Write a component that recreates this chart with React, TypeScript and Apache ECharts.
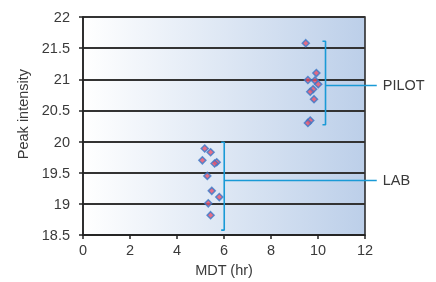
import React, { useEffect, useRef } from "react";
import * as echarts from "echarts";

const pilotX = [9.48, 9.93, 9.57, 9.87, 10.01, 9.79, 9.67, 9.83, 9.67, 9.57];
const pilotY = [21.58, 21.1, 20.99, 20.98, 20.92, 20.84, 20.8, 20.68, 20.34, 20.3];
const labX = [5.18, 5.43, 5.08, 5.69, 5.6, 5.29, 5.48, 5.8, 5.33, 5.43];
const labY = [19.89, 19.83, 19.7, 19.67, 19.65, 19.45, 19.21, 19.11, 19.01, 18.82];

// bracket definitions: [xBracket, yTop, yBottom, yMid]
const pilotBracket = [10.32, 21.61, 20.27, 20.91];
const labBracket = [6.01, 19.99, 18.58, 19.39];
const capLen = 0.13;
const leaderEndX = 12.5;

const xTicks = [0, 2, 4, 6, 8, 10, 12];
const yTicks = [18.5, 19, 19.5, 20, 20.5, 21, 21.5, 22];

const bracketColor = "#1a9ad6";
const font = "Liberation Sans, Arial, sans-serif";
const textColor = "#3a3a3a";
const fs = 14.5;

function bracketSeries(b: number[]) {
  const [bx, top, bot] = b;
  return {
    type: "line",
    data: [
      [bx - capLen, top],
      [bx, top],
      [bx, bot],
      [bx - capLen, bot],
    ],
    symbol: "none",
    lineStyle: { color: bracketColor, width: 1.6 },
    clip: false,
    silent: true,
  };
}

export default function App() {
  const ref = useRef<HTMLDivElement>(null);
  useEffect(() => {
    if (!ref.current) return;
    const chart = echarts.init(ref.current, undefined, { renderer: "svg" });
    const pilotData = pilotX.map((x, i) => [x, pilotY[i]]);
    const labData = labX.map((x, i) => [x, labY[i]]);
    const pointStyle = {
      color: "#e8506a",
      borderColor: "#3a78c8",
      borderWidth: 1.5,
    };
    chart.setOption({
      animation: false,
      grid: {
        left: 83,
        top: 17,
        width: 282,
        height: 220,
        show: true,
        borderColor: "#222",
        borderWidth: 1.5,
        backgroundColor: new echarts.graphic.LinearGradient(0, 0, 1, 0, [
          { offset: 0, color: "#ffffff" },
          { offset: 1, color: "#bccfe9" },
        ]),
      },
      xAxis: {
        type: "value",
        min: 0,
        max: 12,
        interval: 2,
        name: "MDT (hr)",
        nameLocation: "middle",
        nameGap: 24,
        nameTextStyle: { color: textColor, fontSize: fs, fontFamily: font },
        axisLine: { show: true, lineStyle: { color: "#222", width: 1.5 } },
        axisTick: { show: true, length: 4, lineStyle: { color: "#222", width: 1.5 } },
        axisLabel: {
          color: textColor,
          fontSize: fs,
          fontFamily: font,
          margin: 7,
          formatter: (v: number) => (xTicks.includes(v) ? String(v) : ""),
        },
        splitLine: { show: false },
      },
      yAxis: {
        type: "value",
        min: 18.5,
        max: 22,
        interval: 0.5,
        name: "Peak intensity",
        nameLocation: "middle",
        nameGap: 52,
        nameTextStyle: {
          color: textColor,
          fontSize: fs,
          fontFamily: font,
          padding: [0, 0, 0, 24],
        },
        axisLine: { show: true, lineStyle: { color: "#222", width: 1.5 } },
        axisTick: { show: true, length: 4, lineStyle: { color: "#222", width: 1.5 } },
        axisLabel: {
          color: textColor,
          fontSize: fs,
          fontFamily: font,
          margin: 13,
          formatter: (v: number) => (yTicks.includes(v) ? String(v) : ""),
        },
        splitLine: { show: true, lineStyle: { color: "#333", width: 1.8 } },
      },
      series: [
        {
          type: "scatter",
          data: pilotData,
          symbol: "diamond",
          symbolSize: 7,
          itemStyle: pointStyle,
        },
        {
          type: "scatter",
          data: labData,
          symbol: "diamond",
          symbolSize: 7,
          itemStyle: pointStyle,
        },
        bracketSeries(pilotBracket),
        bracketSeries(labBracket),
      ],
    });
    const leaders: any[] = [];
    [
      [pilotBracket, "PILOT"],
      [labBracket, "LAB"],
    ].forEach(([b, name]: any) => {
      const p0 = chart.convertToPixel({ gridIndex: 0 }, [b[0], b[3]]) as number[];
      const p1 = chart.convertToPixel({ gridIndex: 0 }, [leaderEndX, b[3]]) as number[];
      const y = Math.round(p0[1]) + 0.5;
      leaders.push({
        type: "line",
        shape: { x1: p0[0], y1: y, x2: p1[0], y2: y },
        style: { stroke: bracketColor, lineWidth: 1.5 },
        silent: true,
        z: 10,
      });
      leaders.push({
        type: "text",
        x: p1[0] + 6,
        y: p1[1],
        style: {
          text: name,
          fill: textColor,
          fontSize: fs,
          fontFamily: font,
          verticalAlign: "middle",
          align: "left",
        },
        silent: true,
      });
    });
    chart.setOption({ graphic: leaders });
    return () => chart.dispose();
  }, []);
  return (
    <div
      ref={ref}
      style={{ position: "fixed", left: 0, top: 0, width: 436, height: 282 }}
    />
  );
}
